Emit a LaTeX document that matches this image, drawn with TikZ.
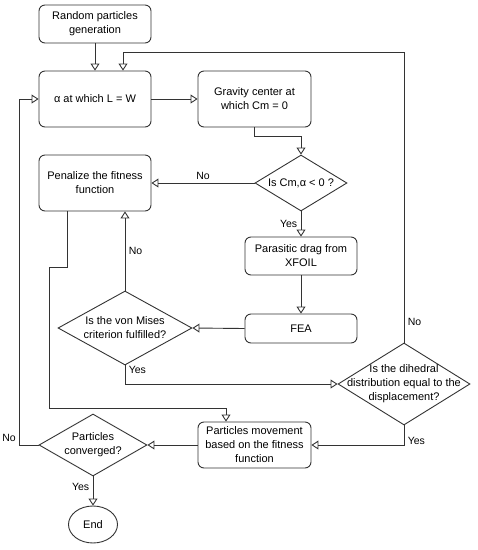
\documentclass[tikz,border=0pt]{standalone}
\usepackage{fontspec}
\setmainfont{Liberation Sans}
\usepackage{xcolor}
\usepackage{tikz}
\usetikzlibrary{arrows.meta,shapes.geometric}

\begin{document}
\begin{tikzpicture}[x=1pt, y=-1pt,
  process/.style={draw=black!80, rounded corners=6pt, line width=0.9pt,
                  align=center, font=\fontsize{11}{14}\selectfont},
  decision/.style={draw=black!80, diamond, inner sep=0pt, line width=0.9pt},
  dtext/.style={align=center, font=\fontsize{11}{14}\selectfont},
  arrow/.style={-{Triangle[open, length=7pt, width=9pt]}, line width=0.9pt, draw=black!80},
  tag/.style={font=\fontsize{10.5}{12}\selectfont}
]
\useasboundingbox (0,0) rectangle (478,550);

% Upper part
\node[process, minimum width=112pt, minimum height=38pt] (gen) at (95,24)
  {Random particles\\generation};
\node[process, minimum width=112pt, minimum height=56pt] (alpha) at (95,99)
  {α at which L = W};
\node[process, minimum width=113pt, minimum height=56pt] (grav) at (254.5,99)
  {Gravity center at\\which Cm = 0};
\node[decision, minimum width=92pt, minimum height=56pt] (cmq) at (301,183) {};
\node[dtext] (cmqtext) at (cmq) {Is Cm,α < 0 ?};
\node[process, minimum width=112pt, minimum height=56pt] (pen) at (95,183)
  {Penalize the fitness\\function};

% Middle part
\node[process, minimum width=112pt, minimum height=38pt] (drag) at (301,256)
  {Parasitic drag from\\XFOIL};
\node[process, minimum width=112pt, minimum height=29pt] (fea) at (301,328.5) {FEA};
\node[decision, minimum width=134pt, minimum height=74pt] (vm) at (125,328) {};
\node[dtext] (vmtext) at (vm) {Is the von Mises\\criterion fulfilled?};
\node[decision, minimum width=132pt, minimum height=82pt] (dih) at (404,384) {};
\node[dtext] (dihtext) at (dih) {Is the dihedral\\distribution equal to the\\displacement?};

% Lower part
\node[process, minimum width=113pt, minimum height=46pt] (move) at (254.5,445)
  {Particles movement\\based on the fitness\\function};
\node[decision, minimum width=108pt, minimum height=62pt] (conv) at (93,445) {};
\node[dtext] (convtext) at (conv) {Particles\\converged?};
\node[draw=black!80, ellipse, line width=0.9pt, minimum width=49pt, minimum height=37pt,
      inner sep=0pt, font=\fontsize{11}{14}\selectfont] (end) at (93,524.5) {End};

% Helper points
\coordinate (loop) at (123,52);
\coordinate (k1) at (49,267);
\coordinate (k2) at (49,408);

% Arrows
\draw[arrow] (gen.south) -- (alpha.north);
\draw[arrow] (alpha.east) -- (grav.west);
\draw[arrow] (grav.south) -- ++(0,9) -| (cmq.north);
\draw[arrow] (cmq.west) -- node[tag, above] {No} (pen.east);
\draw[arrow] (cmq.south) -- node[tag, left] {Yes} (drag.north);
\draw[arrow] (drag.south) -- (fea.north);
\draw[arrow] (fea.west) -- (vm.east);
\draw[arrow] (vm.north) -- node[tag, right] {No} (pen.south -| vm.north);
\draw[arrow] (vm.south) |- node[tag, right, pos=0.12] {Yes} (dih.west);
\draw[arrow] (dih.north) |- node[tag, right, pos=0.035] {No} (loop)
  -- ([xshift=28pt]alpha.north);
\draw[arrow] (dih.south) |- node[tag, right, pos=0.4] {Yes} (move.east);
\draw[arrow] ([xshift=-28pt]pen.south) |- (k1) -- (k2) -| ([xshift=-28.5pt]move.north);
\draw[arrow] (move.west) -- (conv.east);
\draw[arrow] (conv.west) -- ++(-19,0) node[tag, above left] {No} |- (alpha.west);
\draw[arrow] (conv.south) -- node[tag, left, pos=0.35] {Yes} (end.north);

\end{tikzpicture}
\end{document}
